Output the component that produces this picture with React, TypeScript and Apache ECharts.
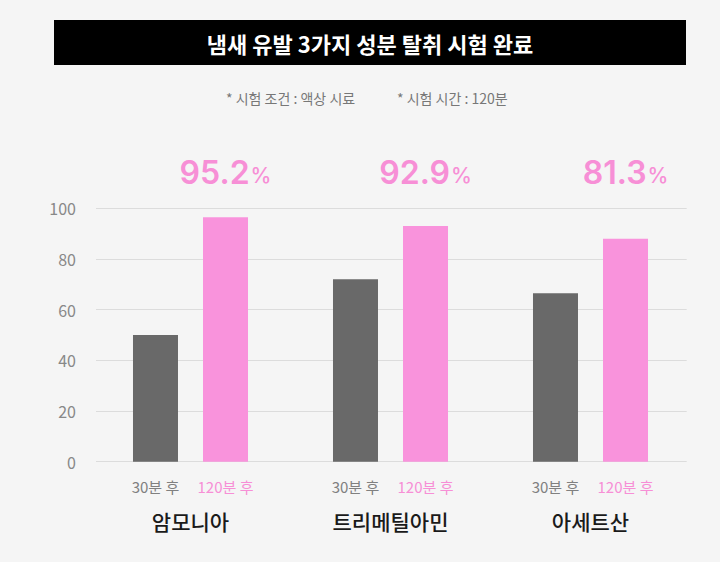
import React, { useEffect, useRef } from "react";
import * as echarts from "echarts";

const categories = ["암모니아", "트리메틸아민", "아세트산"];
const timeLabels = ["30분 후", "120분 후"];
const after30 = [50, 72, 66.5];
const after120 = [96.5, 93, 88];
const removalRates = ["95.2", "92.9", "81.3"];
const yTicks = [0, 20, 40, 60, 80, 100];

const titleText = "냄새 유발 3가지 성분 탈취 시험 완료";
const notes = ["* 시험 조건 : 액상 시료", "* 시험 시간 : 120분"];

const FONT = "'Noto Sans CJK KR', 'Noto Sans', sans-serif";
const NUM_FONT = "Inter, 'Noto Sans', sans-serif";
const GRAY = "#696969";
const PINK = "#f993dc";
const PINK_TEXT = "#f78fd6";

const App = () => {
    const chartRef = useRef(null);

    useEffect(() => {
        document.body.style.margin = "0";
        if (!chartRef.current) return;
        const chart = echarts.init(chartRef.current, null, { renderer: "svg" });

        const options = {
            animation: false,
            backgroundColor: "#f5f5f5",
            textStyle: { fontFamily: FONT },
            grid: [
                // axis / split lines
                { left: 96, right: 33.3, top: 208.3, bottom: 100.3 },
                // bars
                { left: 90.5, right: 29.5, top: 208.3, bottom: 100.3 }
            ],
            xAxis: [
                { gridIndex: 0, type: "category", data: categories, show: false },
                {
                    gridIndex: 1,
                    type: "category",
                    data: categories,
                    axisLine: { show: false },
                    axisTick: { show: false },
                    axisLabel: {
                        margin: 14,
                        interval: 0,
                        formatter: (name) => `{g|${timeLabels[0]}}{p|${timeLabels[1]}}\n{n|${name}}`,
                        rich: {
                            g: { width: 70, align: "center", fontSize: 15, lineHeight: 22, color: "#808080", fontFamily: FONT },
                            p: { width: 70, align: "center", fontSize: 15, lineHeight: 22, color: PINK_TEXT, fontFamily: FONT },
                            n: { width: 140, align: "center", fontSize: 21, lineHeight: 46, color: "#1a1a1a", fontWeight: 500, fontFamily: FONT }
                        }
                    }
                }
            ],
            yAxis: [
                {
                    gridIndex: 0,
                    type: "value",
                    min: yTicks[0],
                    max: yTicks[yTicks.length - 1],
                    interval: yTicks[1] - yTicks[0],
                    axisLine: { show: false },
                    axisTick: { show: false },
                    axisLabel: { margin: 20, fontSize: 16, color: "#888", fontFamily: FONT },
                    splitLine: { lineStyle: { color: "#dcdcdc", width: 1 } }
                },
                {
                    gridIndex: 1,
                    type: "value",
                    min: yTicks[0],
                    max: yTicks[yTicks.length - 1],
                    interval: yTicks[1] - yTicks[0],
                    show: false
                }
            ],
            graphic: [
                {
                    type: "rect",
                    shape: { x: 54, y: 20, width: 632, height: 45 },
                    style: { fill: "#000" }
                },
                {
                    type: "text",
                    x: 370,
                    y: 43,
                    style: {
                        text: titleText,
                        fill: "#fff",
                        font: `bold 22px ${FONT}`,
                        align: "center",
                        verticalAlign: "middle"
                    }
                },
                {
                    type: "text",
                    x: 226,
                    y: 98,
                    style: { text: notes[0], fill: "#777", font: `14px ${FONT}`, verticalAlign: "middle" }
                },
                {
                    type: "text",
                    x: 397,
                    y: 98,
                    style: { text: notes[1], fill: "#777", font: `14px ${FONT}`, verticalAlign: "middle" }
                }
            ],
            series: [
                {
                    name: timeLabels[0],
                    type: "bar",
                    xAxisIndex: 1,
                    yAxisIndex: 1,
                    data: after30,
                    barWidth: 45,
                    barGap: "55.6%",
                    itemStyle: { color: GRAY }
                },
                {
                    name: timeLabels[1],
                    type: "bar",
                    xAxisIndex: 1,
                    yAxisIndex: 1,
                    data: after120,
                    barWidth: 45,
                    itemStyle: { color: PINK },
                    label: {
                        show: true,
                        position: "top",
                        formatter: (p) => `{v|${removalRates[p.dataIndex]}}{u|%}`,
                        rich: {
                            v: { fontSize: 32, fontWeight: 600, color: PINK_TEXT, fontFamily: NUM_FONT, verticalAlign: "bottom", lineHeight: 36, letterSpacing: -1 },
                            u: { fontSize: 21, fontWeight: 500, color: PINK_TEXT, fontFamily: NUM_FONT, verticalAlign: "bottom", lineHeight: 36, padding: [0, 0, 2, 1] }
                        }
                    },
                    labelLayout: () => ({ y: 170, align: "center", verticalAlign: "middle" })
                }
            ]
        };

        chart.setOption(options);
        return () => chart.dispose();
    }, []);

    return <div ref={chartRef} style={{ width: "720px", height: "562px" }} />;
};

export default App;
